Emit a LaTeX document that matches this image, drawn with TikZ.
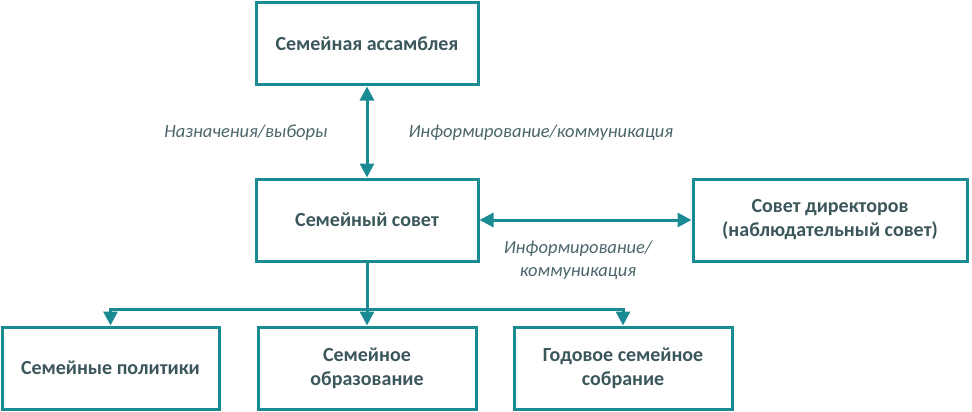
\documentclass[tikz,border=0pt]{standalone}
\usepackage{fontspec}
\setmainfont{Carlito}
\usetikzlibrary{arrows.meta,shadows}
\definecolor{teal1}{HTML}{1B8B93}
\definecolor{txt}{HTML}{3B575B}
\definecolor{lbl}{HTML}{4A6569}
\tikzset{
  box/.style={draw=teal1, line width=3pt, fill=white, minimum height=82pt,
    align=center, font=\bfseries\fontsize{20}{24}\selectfont, text=txt,
    drop shadow={shadow xshift=1.5pt, shadow yshift=-1.5pt, opacity=0.25}},
  conn/.style={draw=teal1, line width=3pt},
  tip/.style={-{Triangle[length=14pt,width=14pt]}},
  tips/.style={{Triangle[length=14pt,width=14pt]}-{Triangle[length=14pt,width=14pt]}},
  lab/.style={font=\itshape\fontsize{18.5}{23}\selectfont, text=lbl, align=center}
}
\begin{document}
\begin{tikzpicture}[x=1pt,y=-1pt]
\useasboundingbox (0,0) rectangle (972,412);
\node[box, minimum width=222pt] (asm) at (367,44) {Семейная ассамблея};
\node[box, minimum width=222pt] (cnc) at (367,220) {Семейный совет};
\node[box, minimum width=274pt] (brd) at (830,220) {Совет директоров\\(наблюдательный совет)};
\node[box, minimum width=217pt] (pol) at (110.5,368) {Семейные политики};
\node[box, minimum width=218pt] (edu) at (367,368) {Семейное\\образование};
\node[box, minimum width=218pt] (ann) at (623,368) {Годовое семейное\\собрание};
\draw[conn, tips] (asm.south) -- (cnc.north);
\draw[conn, tips] (cnc.east) -- (brd.west);
\coordinate (j) at (367,309);
\draw[conn] (cnc.south) -- (j);
\draw[conn, tip] (j) -| (pol.north);
\draw[conn, tip] (j) -- (edu.north);
\draw[conn, tip] (j) -| (ann.north);
\node[lab, anchor=east] (l1) at (331,133) {Назначения/выборы};
\node[lab, anchor=west] (l2) at (405,133) {Информирование/коммуникация};
\node[lab] (l3) at (578,260) {Информирование/\\коммуникация};
\end{tikzpicture}
\end{document}
